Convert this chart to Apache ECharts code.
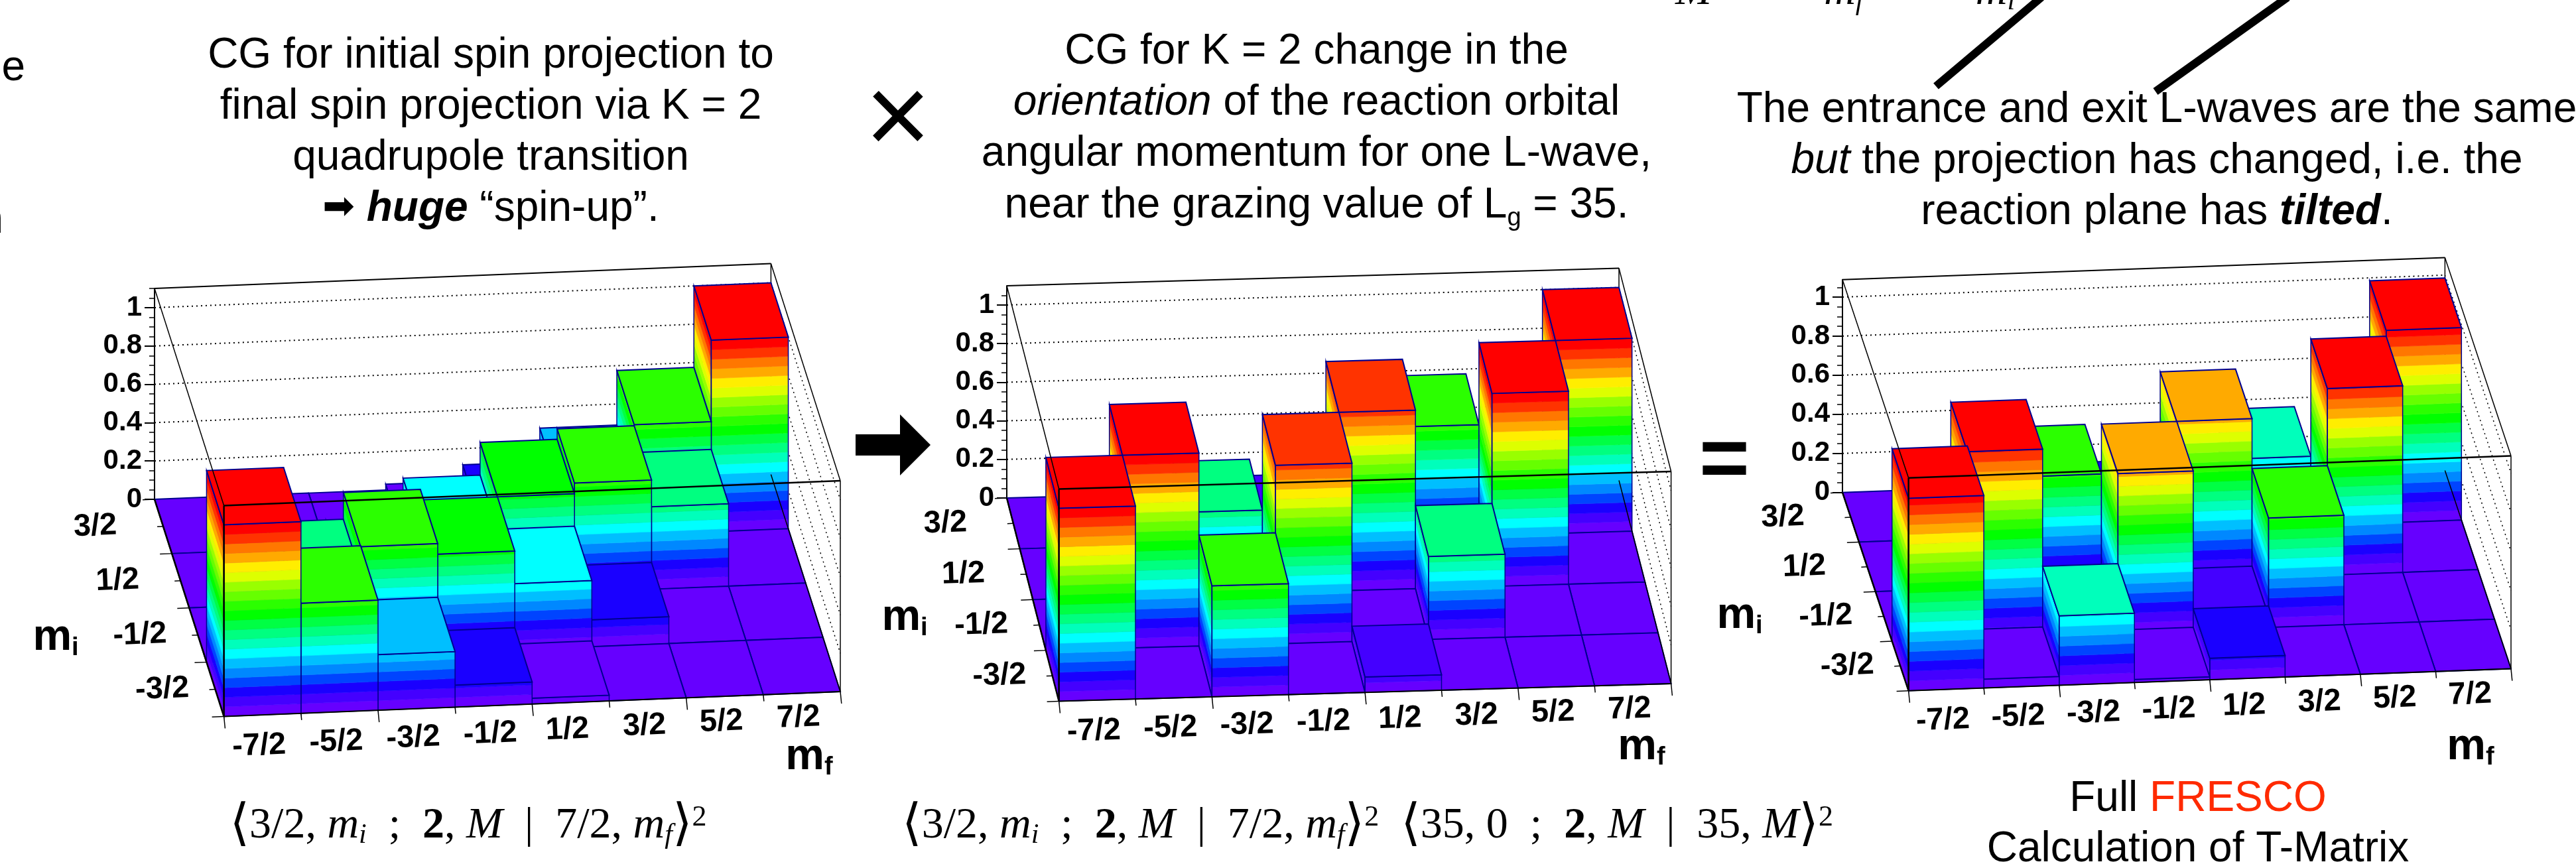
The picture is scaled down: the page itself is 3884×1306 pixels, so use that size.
<!DOCTYPE html>
<html><head><meta charset="utf-8">
<style>html,body{margin:0;padding:0;background:#fff}#c{width:3884px;height:1306px}</style>
<script src="https://cdn.jsdelivr.net/npm/echarts@6/dist/echarts.min.js"></script>
</head><body><div id="c"></div>
<script>
// ---- tick labels
const mfLabels = ['-7/2','-5/2','-3/2','-1/2','1/2','3/2','5/2','7/2'];
const miLabels = ['-3/2','-1/2','1/2','3/2'];
const zTicks = [0,0.2,0.4,0.6,0.8,1];
// ---- values: one row per mi, one value per mf
const cgSpin_m32 = [1.00,0.575,0.29,0.115,0.03,0,0,0];
const cgSpin_m12 = [0,0.43,0.57,0.515,0.345,0.14,0,0];
const cgSpin_p12 = [0,0,0.14,0.345,0.515,0.57,0.43,0];
const cgSpin_p32 = [0,0,0,0.03,0.115,0.29,0.575,1.00];
const cgOrient_m32 = [1.00,0,0.575,0,0.08,0,0,0];
const cgOrient_m12 = [0,1.00,0,0.925,0,0.43,0,0];
const cgOrient_p12 = [0,0,0.43,0,0.925,0,1.00,0];
const cgOrient_p32 = [0,0,0,0.08,0,0.575,0,1.00];
const fresco_m32 = [0.985,0.045,0.355,0.015,0.11,0,0,0];
const fresco_m12 = [0,0.955,0.03,0.815,0.06,0.56,0,0];
const fresco_p12 = [0,0,0.56,0.06,0.815,0.03,0.955,0];
const fresco_p32 = [0,0,0,0.11,0.015,0.355,0.045,0.985];
// ---- 20-level palette, bottom to top
const palette = ['#6600ff','#4400ff','#1a00ff','#0044ff','#0088ff','#00bfff','#00ffff','#00ffbb','#00ff80','#00ff44',
                 '#00ff00','#2bff00','#66ff00','#99ff00','#ddff00','#ffee00','#ffaa00','#ff7700','#ff3300','#ff0000'];
const NAVY = '#000090';
const panels = [
 {rows:[cgSpin_m32,cgSpin_m12,cgSpin_p12,cgSpin_p32], back:[233,753], ux:929.4, uy:-37.5, vx:-104.6, vy:-327.5, h:318, zscale:289,
  mfTitle:[1220,1142], miTitle:[84,962]},
 {rows:[cgOrient_m32,cgOrient_m12,cgOrient_p12,cgOrient_p32], back:[1518,751], ux:923, uy:-26.5, vx:-78.6, vy:-306.5, h:320, zscale:291,
  mfTitle:[2475,1127], miTitle:[1364,932]},
 {rows:[fresco_m32,fresco_m12,fresco_p12,fresco_p32], back:[2778,742.7], ux:908.4, uy:-33.1, vx:-99.6, vy:-299, h:321, zscale:294.7,
  mfTitle:[3725,1127], miTitle:[2623,929]}
];
const chart = echarts.init(document.getElementById('c'), null, {renderer:'canvas'});
const grids=[], xAxes=[], yAxes=[], series=[];

panels.forEach((p,pi)=>{
  const zmax = p.h/p.zscale;
  grids.push({left:p.back[0], top:p.back[1]-p.h, width:p.ux, height:p.h});
  xAxes.push({gridIndex:pi,type:'value',min:0,max:8,show:false});
  yAxes.push({gridIndex:pi,type:'value',min:0,max:zmax,interval:0.2,splitLine:{show:false},
    axisLine:{show:true,onZero:false,lineStyle:{color:'#000',width:2}},
    axisTick:{show:true,length:15,lineStyle:{color:'#000',width:2},customValues:zTicks},
    minorTick:{show:true,splitNumber:4,length:8,lineStyle:{color:'#000',width:1.5}},
    axisLabel:{show:true,margin:19,fontFamily:'Liberation Sans',fontWeight:'bold',fontSize:42,color:'#000',
      customValues:zTicks,formatter:v=>String(+v.toFixed(1))}});
  // i along mf (0..8), j along mi from the front (0..4), z value
  const P=(api,i,j,z)=>{const c=api.coord([i,z]);return [c[0]-(4-j)/4*p.vx, c[1]-(4-j)/4*p.vy+i/8*p.uy];};
  const line=(a,b,w,col,dash)=>({type:'line',shape:{x1:a[0],y1:a[1],x2:b[0],y2:b[1]},style:{stroke:col||'#000',lineWidth:w,lineDash:dash||null,fill:null}});
  // back walls with dotted grid
  series.push({type:'custom',xAxisIndex:pi,yAxisIndex:pi,clip:false,silent:true,z:1,data:[[0,0]],encode:{x:0,y:1},
    renderItem:(pm,api)=>{
      const ch=[];
      zTicks.filter(t=>t>0).forEach(t=>{
        ch.push(line(P(api,0,4,t),P(api,8,4,t),2,'#000',[2,5]));
        ch.push(line(P(api,8,4,t),P(api,8,0,t),1.5,'#000',[2,5]));
      });
      ch.push(line(P(api,0,4,zmax),P(api,8,4,zmax),2));
      ch.push(line(P(api,8,4,0),P(api,8,4,zmax),1.5));
      return {type:'group',children:ch};
    }});
  // bars, painted back to front and right to left
  const cells=[];
  for(let j=3;j>=0;j--) for(let i=7;i>=0;i--) cells.push([i,p.rows[j][i],j]);
  series.push({type:'custom',xAxisIndex:pi,yAxisIndex:pi,clip:false,silent:true,z:2,data:cells,encode:{x:0,y:1},
    renderItem:(pm,api)=>{
      const i=api.value(0), z=api.value(1), j=api.value(2), ch=[];
      const poly=(pts,fill,stroke,w)=>({type:'polygon',shape:{points:pts},style:{fill:fill||null,stroke:stroke||fill,lineWidth:w==null?0.6:w}});
      if(z>0){
        for(let k=0;k<20;k++){
          const a=k*0.05,b=Math.min((k+1)*0.05,z);
          if(a>=z) break;
          ch.push(poly([P(api,i,j+1,a),P(api,i,j,a),P(api,i,j,b),P(api,i,j+1,b)],palette[k]));
          ch.push(poly([P(api,i,j,a),P(api,i+1,j,a),P(api,i+1,j,b),P(api,i,j,b)],palette[k]));
        }
        ch.push(poly([P(api,i,j+1,0),P(api,i,j,0),P(api,i,j,z),P(api,i,j+1,z)],null,NAVY,1.5));
        ch.push(poly([P(api,i,j,0),P(api,i+1,j,0),P(api,i+1,j,z),P(api,i,j,z)],null,NAVY,1.5));
      }
      const idx=Math.min(19,Math.floor(z*20+1e-9));
      ch.push({type:'polygon',shape:{points:[P(api,i,j,z),P(api,i+1,j,z),P(api,i+1,j+1,z),P(api,i,j+1,z)]},
               style:{fill:palette[idx],stroke:NAVY,lineWidth:2}});
      return {type:'group',children:ch};
    }});
  // front frame, ticks, tick labels
  series.push({type:'custom',xAxisIndex:pi,yAxisIndex:pi,clip:false,silent:true,z:3,data:[[0,0]],encode:{x:0,y:1},
    renderItem:(pm,api)=>{
      const ch=[];
      ch.push(line(P(api,0,4,zmax),P(api,0,0,zmax),1.5));
      ch.push(line(P(api,8,4,zmax),P(api,8,0,zmax),1.5));
      ch.push(line(P(api,0,0,zmax),P(api,8,0,zmax),2.5));
      ch.push(line(P(api,0,0,0),P(api,0,0,zmax),2.5));
      ch.push(line(P(api,8,0,0),P(api,8,0,zmax),1.5));
      ch.push(line(P(api,0,0,0),P(api,8,0,0),2));
      ch.push(line(P(api,0,4,0),P(api,0,0,0),2.5));
      ch.push(line(P(api,8,4,0),P(api,8,0,0),1.5));
      const rot=Math.atan2(-p.uy,p.ux);
      for(let i=0;i<=8;i++){
        const a=P(api,i,0,0), L=i%2?10:18;
        ch.push(line(a,[a[0]+L*0.1,a[1]+L],1.5));
      }
      for(let q=0;q<=8;q++){
        const a=P(api,0,q/2,0), L=q%2?9:18;
        ch.push(line(a,[a[0]-L,a[1]+L*0.04],1.5));
      }
      const txt=(s,x,y)=>({type:'text',x:x,y:y,rotation:rot,style:{text:s,align:'center',verticalAlign:'middle',
        fontFamily:'Liberation Sans',fontWeight:'bold',fontSize:47,fill:'#000'}});
      mfLabels.forEach((s,i)=>{const a=P(api,i+0.5,0,0);ch.push(txt(s,a[0]-5,a[1]+47-i*1.4));});
      miLabels.forEach((s,j)=>{const a=P(api,0,j+0.5,0);ch.push(txt(s,a[0]-80-j*7.5,a[1]));});
      return {type:'group',children:ch};
    }});
});

// ---- annotation text
const R={
 r:{fontFamily:'Liberation Sans',fontSize:64,lineHeight:78,fill:'#000'},
 i:{fontFamily:'Liberation Sans',fontStyle:'italic',fontSize:64,lineHeight:78,fill:'#000'},
 bi:{fontFamily:'Liberation Sans',fontStyle:'italic',fontWeight:'bold',fontSize:64,lineHeight:78,fill:'#000'},
 ar:{fontFamily:'DejaVu Sans',fontSize:58,lineHeight:78,fill:'#000'},
 sb:{fontFamily:'Liberation Sans',fontSize:38,lineHeight:38,verticalAlign:'bottom',fill:'#000'},
 red:{fontFamily:'Liberation Sans',fontSize:64,lineHeight:78,fill:'#ff2a00'},
 f:{fontFamily:'Liberation Serif',fontSize:66,lineHeight:70,fill:'#000'},
 fi:{fontFamily:'Liberation Serif',fontStyle:'italic',fontSize:66,lineHeight:70,fill:'#000'},
 fb:{fontFamily:'Liberation Serif',fontWeight:'bold',fontSize:66,lineHeight:70,fill:'#000'},
 fa:{fontFamily:'DejaVu Serif',fontSize:76,lineHeight:70,fill:'#000'},
 fs:{fontFamily:'Liberation Serif',fontStyle:'italic',fontSize:42,lineHeight:42,verticalAlign:'bottom',fill:'#000'},
 fp:{fontFamily:'Liberation Serif',fontSize:44,lineHeight:44,verticalAlign:'top',fill:'#000'},
 m:{fontFamily:'Liberation Sans',fontWeight:'bold',fontSize:66,lineHeight:70,fill:'#000'},
 ms:{fontFamily:'Liberation Sans',fontWeight:'bold',fontSize:38,lineHeight:38,verticalAlign:'bottom',fill:'#000'}
};
const t=(x,yBase,text,align)=>({type:'text',silent:true,z:10,style:{text:text,rich:R,x:x,y:yBase-17,align:align||'center',verticalAlign:'middle'}});
const titleLeft=['{r|CG for initial spin projection to}','{r|final spin projection via K = 2}','{r|quadrupole transition}','{ar|➡}{r| }{bi|huge}{r| “spin-up”.}'];
const titleMid=['{r|CG for K = 2 change in the}','{i|orientation}{r| of the reaction orbital}','{r|angular momentum for one L-wave,}','{r|near the grazing value of L}{sb|g}{r| = 35.}'];
const titleRight=['{r|The entrance and exit L-waves are the same}','{i|but}{r| the projection has changed, i.e. the}','{r|reaction plane has }{bi|tilted}{r|.}'];
const formulaOne='{fa|⟨}{f|3/2, }{fi|m}{fs|i}{f|  ;  }{fb|2}{f|, }{fi|M}{f|  |  7/2, }{fi|m}{fs|f}{fa|⟩}{fp|2}';
const formulaTwo=formulaOne+'{f|  }{fa|⟨}{f|35, 0  ;  }{fb|2}{f|, }{fi|M}{f|  |  35, }{fi|M}{fa|⟩}{fp|2}';
const g=[];
titleLeft.forEach((s,k)=>g.push(t(740,101+k*77,s)));
titleMid.forEach((s,k)=>g.push(t(1985,95+k*77.3,s)));
titleRight.forEach((s,k)=>g.push(t(3252,183+k*77,s)));
g.push(t(38,120,'{r|e}','right'),t(5,350,'{r|n}','right'));
g.push(t(2526,6,'{fi|M}{f|    =    }{fi|m}{fs|f}{f|    −    }{fi|m}{fs|i}','left'));
g.push(t(706,1263,formulaOne),t(2062,1263,formulaTwo));
g.push(t(3314,1222,'{r|Full }{red|FRESCO}'),t(3314,1298,'{r|Calculation of T-Matrix}'));
panels.forEach(p=>{
  g.push(t(p.mfTitle[0],p.mfTitle[1]+17,'{m|m}{ms|f}'));
  g.push(t(p.miTitle[0],p.miTitle[1]+17,'{m|m}{ms|i}'));
});
g.push({type:'text',z:10,style:{text:'×',x:1354,y:185,align:'center',verticalAlign:'middle',fontFamily:'Liberation Sans',fontSize:170,fill:'#000'}});
g.push({type:'text',z:10,style:{text:'=',x:2600,y:698,align:'center',verticalAlign:'middle',fontFamily:'Liberation Sans',fontWeight:'bold',fontSize:130,fill:'#000'}});
g.push({type:'polygon',z:10,shape:{points:[[1290,655],[1357,655],[1357,625],[1403,671],[1357,717],[1357,687],[1290,687]]},style:{fill:'#000'}});
[[3078,-4,2919,130],[3449,-4,3250,138]].forEach(s=>g.push({type:'line',z:10,shape:{x1:s[0],y1:s[1],x2:s[2],y2:s[3]},style:{stroke:'#000',lineWidth:12}}));

chart.setOption({animation:false,backgroundColor:'#fff',grid:grids,xAxis:xAxes,yAxis:yAxes,series:series,graphic:{elements:g}});
</script></body></html>
